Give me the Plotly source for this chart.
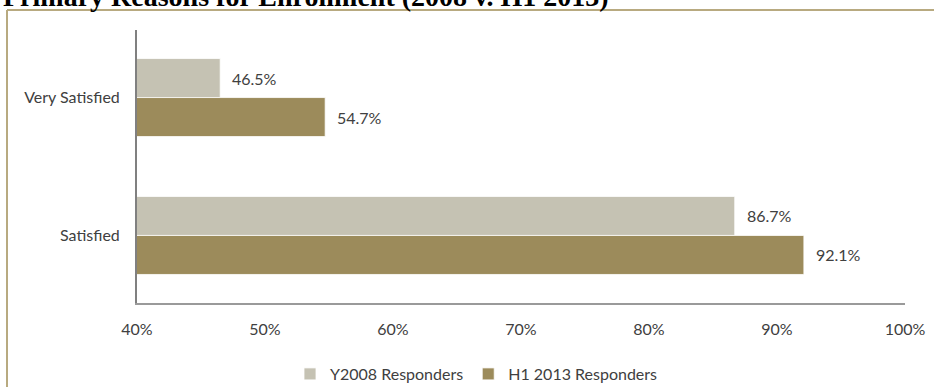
import plotly.graph_objects as go

# Satisfaction levels (bottom to top on the category axis)
categories = ["Satisfied", "Very Satisfied"]
y2008_values = [86.7, 46.5]
h12013_values = [92.1, 54.7]
series_names = ["Y2008 Responders", "H1 2013 Responders"]
tick_values = [40, 50, 60, 70, 80, 90, 100]
tick_labels = ["40%", "50%", "60%", "70%", "80%", "90%", "100%"]
title_text = "Primary Reasons for Enrollment (2008 v. H1 2013)"

W, H = 934, 387
ML, MR, MT, MB = 137, 29, 30, 84
PW, PH = W - ML - MR, H - MT - MB

LIGHT = "#C5C2B3"
DARK = "#9C8B5B"
TXT = "#404040"
FONT = "Lato"
FS = 16
BAR_W = 0.283


def px_x(px):
    return (px - ML) / PW


def px_y(py):
    return (H - MB - py) / PH


fig = go.Figure()
fig.add_trace(go.Bar(
    y=categories, x=y2008_values, orientation="h", name=series_names[0],
    marker=dict(color=LIGHT, line=dict(color="white", width=0.8)),
    width=BAR_W, offset=0, base=0,
))
fig.add_trace(go.Bar(
    y=categories, x=h12013_values, orientation="h", name=series_names[1],
    marker=dict(color=DARK, line=dict(color="white", width=0.8)),
    width=BAR_W, offset=-BAR_W, base=0,
))

# value labels to the right of each bar
for i, cat in enumerate(categories):
    for vals, off in ((y2008_values, BAR_W / 2), (h12013_values, -BAR_W / 2)):
        fig.add_annotation(
            x=vals[i], y=i + off, xref="x", yref="y",
            text=f"{vals[i]:.1f}%", showarrow=False,
            xanchor="left", yanchor="middle", xshift=10,
            font=dict(family=FONT, size=FS, color=TXT),
        )

# title, clipped at the top edge of the page
fig.add_annotation(
    x=px_x(1), y=px_y(-4), xref="paper", yref="paper",
    text=f"<b>{title_text}</b>", showarrow=False,
    xanchor="left", yanchor="middle",
    font=dict(family="Liberation Serif", size=28, color="black"),
)

# outer frame (top and left edges visible)
frame = dict(color="#B8AA80", width=2)
fig.add_shape(type="line", xref="paper", yref="paper",
              x0=px_x(7), x1=px_x(W + 10), y0=px_y(10), y1=px_y(10), line=frame)
fig.add_shape(type="line", xref="paper", yref="paper",
              x0=px_x(7), x1=px_x(7), y0=px_y(10), y1=px_y(H + 10), line=frame)

fig.update_layout(
    width=W, height=H,
    margin=dict(l=ML, r=MR, t=MT, b=MB, pad=0, autoexpand=False),
    paper_bgcolor="white", plot_bgcolor="white",
    barmode="overlay",
    showlegend=True,
    legend=dict(
        orientation="h", x=px_x(290), y=px_y(391), xanchor="left", yanchor="bottom",
        font=dict(family=FONT, size=FS, color=TXT),
        itemwidth=30, traceorder="normal",
    ),
    xaxis=dict(
        range=[40, 100], tickvals=tick_values, ticktext=tick_labels,
        showgrid=False, zeroline=False, showline=True, linecolor="#9A9A9A", linewidth=1.5,
        ticks="", ticklabelstandoff=11,
        tickfont=dict(family=FONT, size=FS, color=TXT),
        fixedrange=True,
    ),
    yaxis=dict(
        range=[-0.49, 1.49], tickvals=[0, 1], ticktext=categories,
        showgrid=False, zeroline=False, showline=True, linecolor="#808080", linewidth=2,
        ticks="", ticklabelstandoff=12,
        tickfont=dict(family=FONT, size=FS, color=TXT),
        fixedrange=True,
    ),
)

fig.write_html("out.html")
